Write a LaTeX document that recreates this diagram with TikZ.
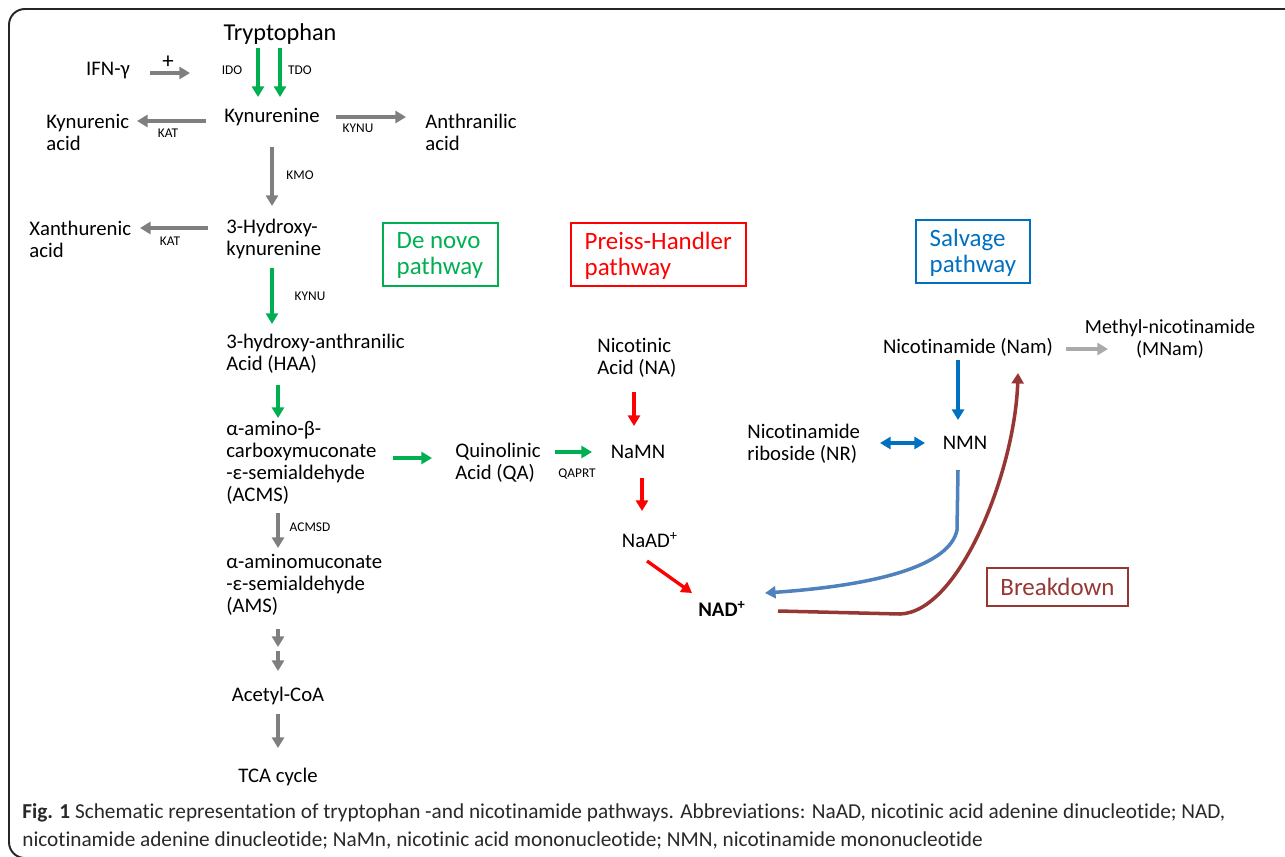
\documentclass[tikz,border=0pt]{standalone}
\usepackage{fontspec}
\setmainfont{Carlito}[Ligatures=NoCommon]
\usetikzlibrary{arrows.meta,calc}

\definecolor{arrgray}{RGB}{127,127,127}
\definecolor{lightarr}{RGB}{170,170,170}
\definecolor{novogreen}{RGB}{0,176,80}
\definecolor{phred}{RGB}{255,0,0}
\definecolor{salvblue}{RGB}{0,112,192}
\definecolor{curveblue}{RGB}{79,129,189}
\definecolor{breakred}{RGB}{150,55,52}
\definecolor{captext}{RGB}{40,40,40}

\newcommand{\bodyfont}{\fontsize{11.8}{12.5}\selectfont}
\newcommand{\boxfont}{\fontsize{14.2}{14.8}\selectfont}

\begin{document}
\begin{tikzpicture}[
  x=0.02cm, y=-0.02cm,
  every node/.style={inner sep=0pt, align=left, font=\bodyfont},
  enz/.style={font=\fontsize{7.6}{8}\selectfont},
  flow/.style={line width=1.9pt, -{Triangle[length=6pt,width=6.8pt]}},
  grayflow/.style={flow, draw=arrgray},
  greenflow/.style={flow, draw=novogreen},
  redflow/.style={flow, draw=phred},
  blueflow/.style={flow, draw=salvblue},
  pathbox/.style={draw, line width=0.8pt},
  boxtext/.style={anchor=west, font=\boxfont},
]
\useasboundingbox (0,0) rectangle (1285,856);
% frame
\draw[line width=1.1pt, black!85, rounded corners=9pt] (1300,9) -- (9,9) -- (9,858) -- (1300,858);

% tryptophan branch
\node (trp) at (280,34) {\fontsize{13.8}{15}\selectfont Tryptophan};
\node (ifn) at (108,71) {IFN-γ};
\node (kyn) at (272,117) {Kynurenine};
\node[anchor=west] (kynacid) at (46,132) {Kynurenic\\acid};
\node[anchor=west] (anthr) at (425,132) {Anthranilic\\acid};
\node[anchor=west] (hk) at (226,239) {3-Hydroxy-\\kynurenine};
\node[anchor=west] (xan) at (29,239) {Xanthurenic\\acid};
\node[anchor=west] (haa) at (226,354) {3-hydroxy-anthranilic\\Acid (HAA)};
\node[anchor=west] (acms) at (226,463) {α-amino-β-\\carboxymuconate\\-ε-semialdehyde\\(ACMS)};
\node[anchor=west] (ams) at (226,585) {α-aminomuconate\\-ε-semialdehyde\\(AMS)};
\node (acoa) at (278,696) {Acetyl-CoA};
\node (tca) at (278,777) {TCA cycle};
\coordinate (amsstep) at (278,649);

% preiss-handler branch
\node[anchor=west] (qa) at (455,463) {Quinolinic\\Acid (QA)};
\node[anchor=west] (na) at (597,358) {Nicotinic\\Acid (NA)};
\node (namn) at (638,452) {NaMN};
\node (naad) at (650,540) {NaAD\textsuperscript{+}};
\node[font=\bodyfont\bfseries] (nad) at (722,609) {NAD\textsuperscript{+}};

% salvage branch
\node (nam) at (968,347) {Nicotinamide (Nam)};
\node[align=center, font=\fontsize{11.4}{12.5}\selectfont] (mnam) at (1170,339) {Methyl-nicotinamide\\(MNam)};
\node[anchor=west] (nr) at (747,444) {Nicotinamide\\riboside (NR)};
\node (nmn) at (965,443) {NMN};

% pathway boxes
\node[pathbox, draw=novogreen, minimum width=2.3cm, minimum height=1.26cm] (denovo) at (440.5,254.5) {};
\node[boxtext, text=novogreen] at ($(denovo.west)+(14,1)$) {De novo\\pathway};
\node[pathbox, draw=phred, minimum width=3.5cm, minimum height=1.26cm] (preiss) at (658.5,254.5) {};
\node[boxtext, text=phred] at ($(preiss.west)+(14,1)$) {Preiss-Handler\\pathway};
\node[pathbox, draw=salvblue, minimum width=2.28cm, minimum height=1.26cm] (salvage) at (973,251.5) {};
\node[boxtext, text=salvblue] at ($(salvage.west)+(14,1)$) {Salvage\\pathway};
\node[pathbox, draw=breakred, text=breakred, line width=0.6pt, font=\boxfont, minimum width=2.82cm, minimum height=0.76cm] (breakdown) at (1057.5,587) {Breakdown};

% enzymes
\node[font=\fontsize{13}{14}\selectfont] (plus) at (168,62) {+};
\node[enz] (ido) at (232,70) {IDO};
\node[enz] (tdo) at (300,70) {TDO};
\node[enz] (kat1) at (168,133) {KAT};
\node[enz] (kynu1) at (358,128) {KYNU};
\node[enz] (kmo) at (300,175) {KMO};
\node[enz] (kat2) at (170,241) {KAT};
\node[enz] (kynu2) at (310,296) {KYNU};
\node[enz] (acmsd) at (310,527) {ACMSD};
\node[enz] (qaprt) at (577,474) {QAPRT};

% connectors
\draw[grayflow] ($(ifn)+(42,2)$) -- ($(ifn)+(82,2)$);
\draw[greenflow] ($(trp)+(-22,14)$) -- ($(kyn)+(-14,-20)$);
\draw[greenflow] ($(trp)+(0,14)$) -- ($(kyn)+(8,-20)$);
\draw[grayflow] ($(kyn)+(-66,4)$) -- ($(kynacid.west)+(91,-11)$);
\draw[grayflow] ($(kyn)+(64,0)$) -- ($(anthr.west)+(-19,-15)$);
\draw[grayflow] ($(kyn)+(0,30)$) -- ($(hk.west)+(46,-33)$);
\draw[grayflow] ($(hk.west)+(-18,-11)$) -- ($(xan.west)+(111,-11)$);
\draw[greenflow] ($(hk.west)+(46,29)$) -- ($(haa.west)+(46,-30)$);
\draw[greenflow] ($(haa.west)+(52,31)$) -- ($(acms.west)+(52,-45)$);
\draw[greenflow] ($(acms.west)+(167,-5)$) -- ($(qa.west)+(-23,-5)$);
\draw[greenflow] ($(qa.west)+(100,-11)$) -- ($(namn)+(-46,0)$);
\draw[redflow] ($(na.west)+(37,34)$) -- ($(namn)+(-4,-26)$);
\draw[redflow] ($(namn)+(4,26)$) -- ($(naad)+(-8,-29)$);
\draw[redflow] ($(naad)+(-3,21)$) -- ($(nad)+(-30,-16)$);
\draw[grayflow] ($(acms.west)+(52,50)$) -- ($(ams.west)+(52,-37)$);
\draw[grayflow] ($(ams.west)+(52,44)$) -- ($(amsstep)+(0,-2)$);
\draw[grayflow] ($(amsstep)+(0,2)$) -- ($(acoa)+(0,-25)$);
\draw[grayflow] ($(acoa)+(0,18)$) -- ($(tca)+(0,-29)$);
\draw[flow, draw=lightarr] ($(nam)+(98,2)$) -- ($(mnam)+(-62,10)$);
\draw[blueflow] ($(nam)+(-10,13)$) -- ($(nmn)+(-7,-23)$);
\draw[blueflow, {Triangle[length=6pt,width=6.8pt]}-{Triangle[length=6pt,width=6.8pt]}] ($(nr.west)+(133,-1)$) -- ($(nmn)+(-40,0)$);
\draw[flow, draw=curveblue, line width=2pt] ($(nmn)+(-7,27)$) -- ($(nmn)+(-8,87)$)
  .. controls ($(nmn)+(-15,122)$) and ($(nmn)+(-85,142)$) .. ($(nad)+(43,-16)$);
\draw[flow, draw=breakred, line width=2pt] ($(nad)+(56,2)$) -- ($(nad)+(178,5)$)
  .. controls ($(nad)+(238,3)$) and ($(nam)+(47,123)$) .. ($(nam)+(50,26)$);

% caption
\node[anchor=west, text=captext, font=\fontsize{12.1}{15.9}\selectfont] (caption) at (22,826)
  {\textbf{Fig. 1} Schematic representation of tryptophan -and nicotinamide pathways. Abbreviations: NaAD, nicotinic acid adenine dinucleotide; NAD,\\
   nicotinamide adenine dinucleotide; NaMn, nicotinic acid mononucleotide; NMN, nicotinamide mononucleotide};
\end{tikzpicture}
\end{document}
